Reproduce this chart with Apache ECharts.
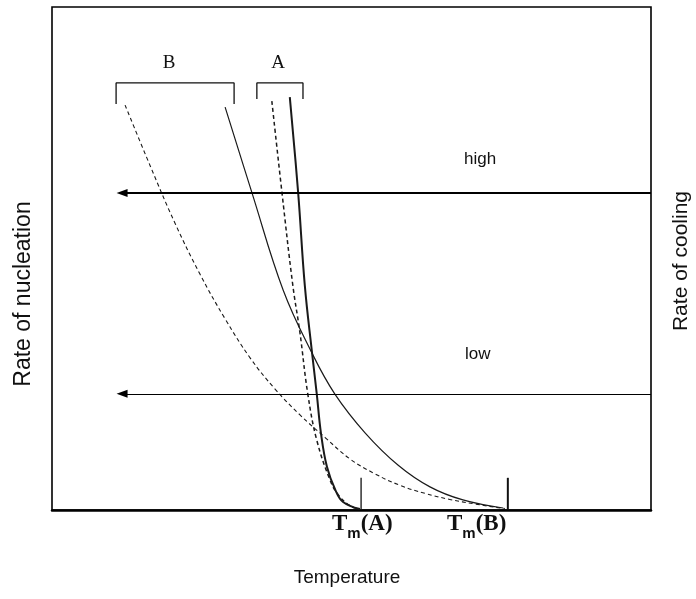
<!DOCTYPE html>
<html>
<head>
<meta charset="utf-8">
<script src="https://cdn.jsdelivr.net/npm/echarts@6/dist/echarts.min.js"></script>
<style>
  html, body { margin: 0; padding: 0; background: #fff; }
  #chart { width: 696px; height: 599px; }
</style>
</head>
<body>
<div id="chart"></div>
<script>
// Nucleation rate vs temperature for two substances, A and B,
// each at two cooling rates (solid = high, dashed = low). Units are relative (0–100).
const curveASolid  = [[39.7,82.1],[41.1,63.0],[42.2,44.7],[43.4,31.4],[44.2,23.1],[44.9,15.3],[45.9,8.6],[47.3,4.0],[48.6,1.6],[51.4,0.2]];
const curveADashed = [[36.7,81.3],[38.4,63.0],[40.2,44.7],[41.4,35.2],[42.7,23.1],[44.2,13.9],[46.4,6.0],[47.8,3.0],[49.8,0.8],[51.4,0.2]];
const curveBSolid  = [[28.9,80.1],[33.4,63.0],[38.6,43.7],[43.4,31.2],[47.2,23.1],[52.3,15.3],[57.8,8.9],[63.1,4.6],[68.6,2.0],[75.3,0.4]];
const curveBDashed = [[12.2,80.5],[16.4,68.4],[20.5,57.1],[24.7,46.9],[28.9,38.0],[33.1,30.2],[37.2,24.1],[41.4,18.9],[45.6,14.4],[49.8,10.1],[53.9,7.2],[58.1,4.9],[62.3,3.3],[66.4,2.1],[70.6,1.2],[74.8,0.4],[75.6,0.3]];

// melting temperatures marked on the temperature axis
const meltA = 51.6;
const meltB = 76.1;
const meltTickHeight = 6.4;

// bracket spans grouping the curve tops of each substance
const bracketB = [10.7, 30.4];
const bracketA = [34.2, 41.9];
const bracketTop = 84.9;
const bracketFootB = 80.7;
const bracketFootA = 81.7;

// cooling-rate arrows (right edge to left)
const arrowHighY = 63.0;
const arrowLowY = 23.1;
const arrowStartX = 100;
const arrowEndX = 11.7;

const SANS = '"Liberation Sans", Arial, sans-serif';
const SERIF = '"Liberation Serif", "Times New Roman", serif';

function bracket(span, foot) {
  return [[span[0], foot], [span[0], bracketTop], [span[1], bracketTop], [span[1], foot]];
}

function curve(data, width, dashed) {
  return {
    type: 'line', data: data, smooth: 0.4,
    showSymbol: false, silent: true,
    lineStyle: { color: '#1a1a1a', width: width, type: dashed ? [4, 3] : 'solid' }
  };
}

function plain(data, width) {
  return {
    type: 'line', data: data, showSymbol: false, silent: true,
    lineStyle: { color: '#111', width: width }
  };
}

const chart = echarts.init(document.getElementById('chart'), null, { renderer: 'canvas' });

const tmRich = {
  t: { fontFamily: SERIF, fontWeight: 'bold', fontSize: 23, lineHeight: 24, padding: [0, 0, 5, 0], verticalAlign: 'bottom' },
  s: { fontFamily: SANS, fontWeight: 'bold', fontSize: 15, lineHeight: 15, verticalAlign: 'bottom' }
};

chart.setOption({
  animation: false,
  backgroundColor: '#fff',
  grid: { left: 52, right: 45, top: 7, bottom: 89, show: true, borderColor: '#000', borderWidth: 1.6, containLabel: false },
  xAxis: {
    type: 'value', min: 0, max: 100,
    axisLine: { show: true, onZero: false, lineStyle: { color: '#000', width: 2.5 } },
    axisTick: { show: false }, axisLabel: { show: false }, splitLine: { show: false }
  },
  yAxis: {
    type: 'value', min: 0, max: 100,
    axisLine: { show: false }, axisTick: { show: false }, axisLabel: { show: false }, splitLine: { show: false }
  },
  series: [
    curve(curveBDashed, 1.1, true),
    curve(curveBSolid, 1.2, false),
    curve(curveADashed, 1.5, true),
    curve(curveASolid, 2.0, false),
    plain(bracket(bracketB, bracketFootB), 1.3),
    plain(bracket(bracketA, bracketFootA), 1.3),
    plain([[meltA, 0], [meltA, meltTickHeight]], 1.3),
    plain([[meltB, 0], [meltB, meltTickHeight]], 2),
    {
      type: 'line', data: [], silent: true,
      markLine: {
        silent: true, animation: false,
        symbol: ['none', 'triangle'], symbolSize: [8, 11],
        label: { show: false },
        data: [
          [{ coord: [arrowStartX, arrowHighY], lineStyle: { color: '#000', width: 1.8, type: 'solid' } }, { coord: [arrowEndX, arrowHighY] }],
          [{ coord: [arrowStartX, arrowLowY], lineStyle: { color: '#000', width: 1.1, type: 'solid' } }, { coord: [arrowEndX, arrowLowY] }]
        ],
        itemStyle: { color: '#000' }
      }
    }
  ],
  graphic: [
    { type: 'text', x: 169, y: 63, style: { text: 'B', font: '19px ' + SERIF, fill: '#111', align: 'center', verticalAlign: 'middle' } },
    { type: 'text', x: 278, y: 63, style: { text: 'A', font: '19px ' + SERIF, fill: '#111', align: 'center', verticalAlign: 'middle' } },
    { type: 'text', x: 464, y: 159, style: { text: 'high', font: '17px ' + SANS, fill: '#111', align: 'left', verticalAlign: 'middle' } },
    { type: 'text', x: 465, y: 354, style: { text: 'low', font: '17px ' + SANS, fill: '#111', align: 'left', verticalAlign: 'middle' } },
    { type: 'text', x: 332, y: 529, style: { text: '{t|T}{s|m}{t|(A)}', rich: tmRich, fill: '#111', align: 'left', verticalAlign: 'middle' } },
    { type: 'text', x: 447, y: 529, style: { text: '{t|T}{s|m}{t|(B)}', rich: tmRich, fill: '#111', align: 'left', verticalAlign: 'middle' } },
    { type: 'text', x: 347, y: 578, style: { text: 'Temperature', font: '19px ' + SANS, fill: '#111', align: 'center', verticalAlign: 'middle' } },
    { type: 'text', x: 24, y: 294, rotation: Math.PI / 2, style: { text: 'Rate of nucleation', font: '23px ' + SANS, fill: '#111', align: 'center', verticalAlign: 'middle' } },
    { type: 'text', x: 681, y: 261, rotation: Math.PI / 2, style: { text: 'Rate of cooling', font: '21px ' + SANS, fill: '#111', align: 'center', verticalAlign: 'middle' } }
  ]
});
</script>
</body>
</html>
